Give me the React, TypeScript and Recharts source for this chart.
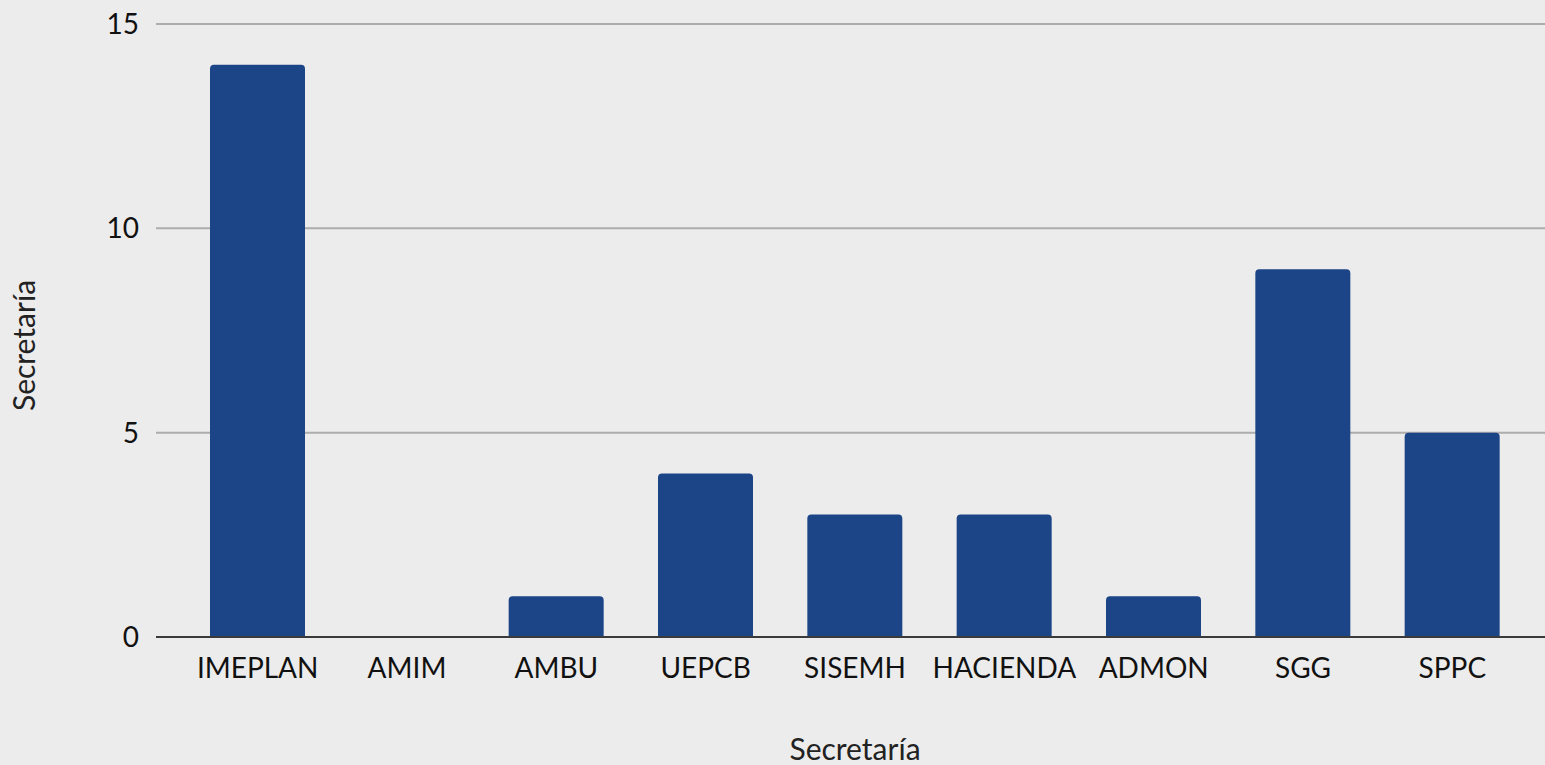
import React from 'react';
import { BarChart, Bar, XAxis, YAxis, CartesianGrid } from 'recharts';

const categories = ['IMEPLAN', 'AMIM', 'AMBU', 'UEPCB', 'SISEMH', 'HACIENDA', 'ADMON', 'SGG', 'SPPC'];
const values = [14, 0, 1, 4, 3, 3, 1, 9, 5];
const yTicks = [0, 5, 10, 15];

const data = categories.map((name, i) => ({ name, value: values[i] }));

const FONT = 'Lato, "Open Sans", sans-serif';

export default function App() {
  return (
    <div
      style={{
        position: 'absolute',
        left: 0,
        top: 0,
        width: 1545,
        height: 765,
        overflow: 'hidden',
        background: '#ececec',
      }}
    >
      <BarChart
        width={1554}
        height={765}
        data={data}
        margin={{ top: 24, right: 0, left: 0, bottom: 0 }}
      >
        <CartesianGrid vertical={false} stroke="#adadad" strokeWidth={2} />
        <XAxis
          dataKey="name"
          height={128}
          padding={{ left: 27, right: 27 }}
          tickLine={false}
          axisLine={{ stroke: '#3a3a3a', strokeWidth: 2 }}
          tick={{ fill: '#111', fontSize: 28, fontFamily: FONT }}
          tickMargin={15}
          interval={0}
          label={{
            value: 'Secretaría',
            position: 'insideBottom',
            offset: 5,
            fill: '#222',
            fontSize: 30,
            fontFamily: FONT,
          }}
        />
        <YAxis
          width={156}
          domain={[0, 15]}
          ticks={yTicks}
          tickLine={false}
          tickSize={0}
          tickMargin={17}
          axisLine={false}
          tick={{ fill: '#111', fontSize: 28, fontFamily: FONT }}
          label={{
            value: 'Secretaría',
            angle: -90,
            position: 'insideLeft',
            offset: 24,
            dy: 15,
            fill: '#222',
            fontSize: 30,
            fontFamily: FONT,
            style: { textAnchor: 'middle' },
          }}
        />
        <Bar
          dataKey="value"
          fill="#1c4587"
          barSize={95}
          radius={[4, 4, 0, 0]}
          isAnimationActive={false}
        />
      </BarChart>
    </div>
  );
}
